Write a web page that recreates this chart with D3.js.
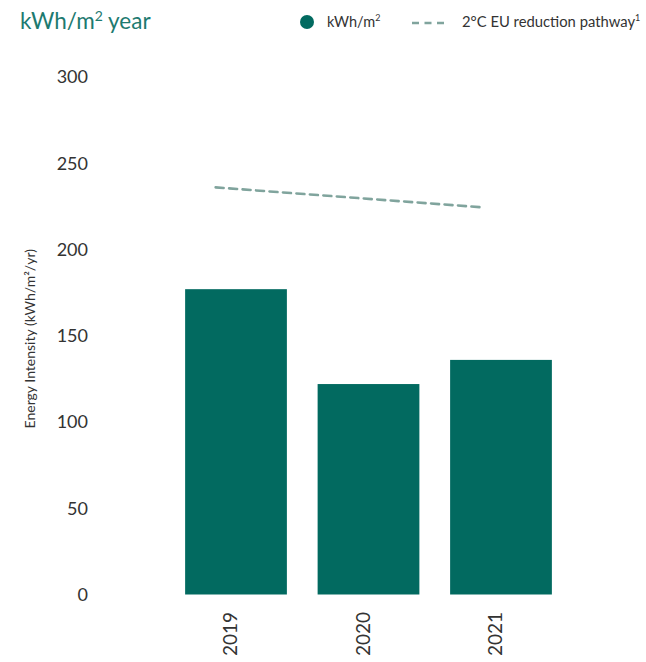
<!DOCTYPE html>
<html>
<head>
<meta charset="utf-8">
<script src="https://cdn.jsdelivr.net/npm/d3@7"></script>
<style>
  html, body { margin: 0; padding: 0; background: #fff; }
  svg { display: block; font-family: Lato, "Noto Sans", sans-serif; }
</style>
</head>
<body>
<svg id="chart" width="646" height="662"></svg>
<script>
// Energy intensity per year (kWh/m²/yr)
const years = ["2019", "2020", "2021"];
const intensity = [177, 122, 136];
// 2°C EU reduction pathway, first and last year
const pathwayYears = ["2019", "2021"];
const pathwayValues = [236, 224.5];
const yTicks = [0, 50, 100, 150, 200, 250, 300];

const barColor = "#026a60";
const pathColor = "#80a49d";
const titleColor = "#1d7a70";
const textColor = "#333";

const svg = d3.select("#chart");

const x = d3.scaleBand()
  .domain(years)
  .range([152, 585])
  .paddingInner(0.232)
  .paddingOuter(0.25);

const y = d3.scaleLinear()
  .domain([0, 300])
  .range([594.5, 77]);

// y tick labels (no axis line)
svg.append("g")
  .selectAll("text")
  .data(yTicks)
  .join("text")
  .attr("x", 88)
  .attr("y", d => y(d))
  .attr("dy", "0.35em")
  .attr("text-anchor", "end")
  .attr("font-size", 18)
  .attr("fill", textColor)
  .text(d => d);

// y axis title
svg.append("text")
  .attr("transform", `translate(35, ${y(150) + 3}) rotate(-90)`)
  .attr("text-anchor", "middle")
  .attr("font-size", 14)
  .attr("fill", textColor)
  .text("Energy Intensity (kWh/m²/yr)");

// bars
svg.append("g")
  .selectAll("rect")
  .data(years.map((yr, i) => ({ yr, v: intensity[i] })))
  .join("rect")
  .attr("x", d => x(d.yr))
  .attr("width", x.bandwidth())
  .attr("y", d => y(d.v))
  .attr("height", d => y(0) - y(d.v))
  .attr("fill", barColor);

// x labels, rotated
svg.append("g")
  .selectAll("text")
  .data(years)
  .join("text")
  .attr("transform", d => `translate(${x(d) + x.bandwidth() / 2 + 1}, 612) rotate(-90)`)
  .attr("text-anchor", "end")
  .attr("font-size", 19)
  .attr("fill", textColor)
  .text(d => d);

// pathway dashed line
const line = d3.line()
  .x(d => x(d.yr) + x.bandwidth() * 0.3)
  .y(d => y(d.v));
svg.append("path")
  .datum(pathwayYears.map((yr, i) => ({ yr, v: pathwayValues[i] })))
  .attr("d", line)
  .attr("fill", "none")
  .attr("stroke", pathColor)
  .attr("stroke-width", 2.6)
  .attr("stroke-dasharray", "8,5.5")
  .attr("stroke-linecap", "round");

// title
svg.append("text")
  .attr("x", 20)
  .attr("y", 29)
  .attr("font-size", 22.5)
  .attr("fill", titleColor)
  .html('kWh/m<tspan font-size="14" dy="-8">2</tspan><tspan dy="8"> year</tspan>');

// legend
const lg = svg.append("g");
lg.append("circle")
  .attr("cx", 307)
  .attr("cy", 22)
  .attr("r", 7)
  .attr("fill", barColor);
lg.append("text")
  .attr("x", 327)
  .attr("y", 27)
  .attr("font-size", 14.5)
  .attr("fill", textColor)
  .html('kWh/m<tspan font-size="9" dy="-6">2</tspan>');
lg.append("line")
  .attr("x1", 412).attr("x2", 445)
  .attr("y1", 23).attr("y2", 23)
  .attr("stroke", pathColor)
  .attr("stroke-width", 2.6)
  .attr("stroke-dasharray", "7,5.5");
lg.append("text")
  .attr("x", 462)
  .attr("y", 27)
  .attr("font-size", 14.8)
  .attr("fill", textColor)
  .html('2°C EU reduction pathway<tspan font-size="9" dy="-6">1</tspan>');
</script>
</body>
</html>
